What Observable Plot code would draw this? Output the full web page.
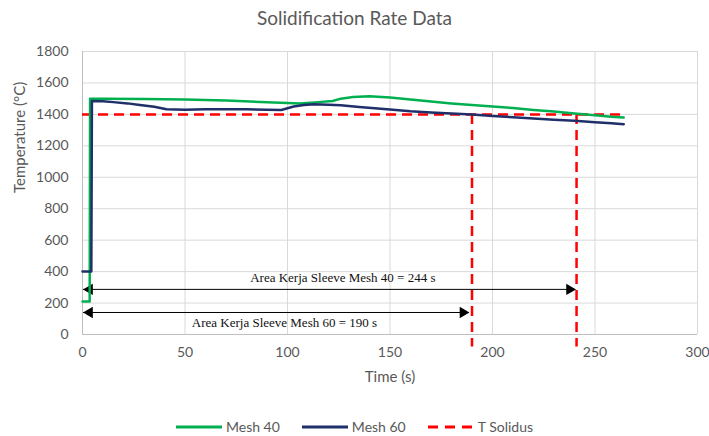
<!DOCTYPE html>
<html>
<head>
<meta charset="utf-8">
<script src="https://cdn.jsdelivr.net/npm/d3@7"></script>
<script src="https://cdn.jsdelivr.net/npm/@observablehq/plot@0.6"></script>
<style>
  body { margin: 0; background: #fff; width: 709px; height: 436px; overflow: hidden; }
  #title { height: 35px; line-height: 35px; text-align: center; font-family: Lato, sans-serif; font-size: 19px; color: #595959; }
  #legend { display: flex; justify-content: center; align-items: center; gap: 22px; font-family: Lato, sans-serif; font-size: 14px; color: #595959; margin-top: 13px; }
  #legend .item { display: flex; align-items: center; gap: 4px; }
</style>
</head>
<body>
<div id="title">Solidification Rate Data</div>
<div id="chart"></div>
<div id="legend"></div>
<script>
// ---- data ----
const xTicks = [0, 50, 100, 150, 200, 250, 300];
const yTicks = [0, 200, 400, 600, 800, 1000, 1200, 1400, 1600, 1800];

const mesh40Time = [0, 3.5, 3.7, 10, 30, 50, 70, 90, 100, 106, 115, 122, 126, 132, 140, 150, 160, 170, 180, 190, 200, 210, 220, 230, 240, 250, 258, 264];
const mesh40Temp = [210, 210, 1500, 1500, 1498, 1495, 1488, 1478, 1472, 1470, 1478, 1485, 1500, 1510, 1515, 1508, 1495, 1482, 1470, 1460, 1450, 1440, 1428, 1418, 1406, 1395, 1385, 1380];

const mesh60Time = [0, 4.3, 4.6, 10, 15, 22, 28, 35, 41, 50, 60, 70, 80, 90, 97, 103, 108, 113, 120, 126, 135, 150, 160, 170, 180, 190, 200, 210, 220, 230, 240, 250, 258, 264];
const mesh60Temp = [400, 400, 1485, 1483, 1478, 1470, 1460, 1448, 1433, 1430, 1432, 1433, 1432, 1430, 1428, 1450, 1460, 1465, 1462, 1458, 1447, 1431, 1420, 1412, 1405, 1399, 1390, 1382, 1374, 1366, 1359, 1350, 1343, 1338];

const solidusTemp = 1400;
const solidusStart = 0;
const solidusEnd = 264;
const crossTimes = [190, 241];
const crossBottom = -80;

const arrowLabels = ["Area Kerja Sleeve Mesh 40 = 244 s", "Area Kerja Sleeve Mesh 60 = 190 s"];
const arrowStart = [0.5, 0.5];
const arrowEnd = [240.5, 188.5];
const arrowLevel = [287, 140];
const labelTime = [127, 98.5];
const labelLevel = [363, 76];

const seriesNames = ["Mesh 40", "Mesh 60", "T Solidus"];
const seriesColors = ["#00b050", "#1f2f6a", "#ff0000"];

// ---- build tables ----
const mesh40 = mesh40Time.map((t, i) => ({t, v: mesh40Temp[i]}));
const mesh60 = mesh60Time.map((t, i) => ({t, v: mesh60Temp[i]}));
const arrows = arrowLabels.map((label, i) => ({label, x1: arrowStart[i], x2: arrowEnd[i], y: arrowLevel[i], lx: labelTime[i], ly: labelLevel[i]}));

const grey = "#595959";
const chart = Plot.plot({
  width: 709,
  height: 370,
  marginTop: 16,
  marginBottom: 71,
  marginLeft: 82,
  marginRight: 12,
  style: {fontFamily: "Lato, sans-serif", fontSize: "14px", color: grey, background: "white", overflow: "visible"},
  x: {domain: [0, 300], label: null},
  y: {domain: [0, 1800], label: null},
  marks: [
    Plot.gridX(xTicks, {stroke: "#d9d9d9", strokeOpacity: 1, strokeWidth: 1}),
    Plot.gridY(yTicks, {stroke: "#d9d9d9", strokeOpacity: 1, strokeWidth: 1}),
    Plot.ruleX([0], {stroke: "#bfbfbf"}),
    Plot.ruleY([0], {stroke: "#bfbfbf"}),
    Plot.axisX(xTicks, {tickSize: 0, tickPadding: 13, fontSize: 14, fill: grey, label: null, tickFormat: d => String(d)}),
    Plot.axisY(yTicks, {tickSize: 0, tickPadding: 14, fontSize: 14, fill: grey, label: null, tickFormat: d => String(d)}),
    Plot.text(["Time (s)"], {frameAnchor: "bottom", dy: 47, fontSize: 15, fill: grey}),
    Plot.text(["Temperature (°C)"], {frameAnchor: "left", dx: -62, rotate: -90, fontSize: 15, fill: grey}),
    // arrows
    Plot.ruleY(arrows, {y: "y", x1: "x1", x2: "x2", stroke: "black", strokeWidth: 1}),
    Plot.dot(arrows, {x: "x1", y: "y", symbol: "triangle", r: 4.2, rotate: -90, dx: 6, fill: "black", stroke: null}),
    Plot.dot(arrows, {x: "x2", y: "y", symbol: "triangle", r: 4.2, rotate: 90, dx: -6, fill: "black", stroke: null}),
    Plot.text(arrows, {x: "lx", y: "ly", text: "label", fontFamily: "Liberation Serif, serif", fontSize: 13, fill: "#111"}),
    // solidus
    Plot.ruleX(crossTimes, {x: d => d, y1: solidusTemp, y2: crossBottom, stroke: seriesColors[2], strokeWidth: 2.5, strokeDasharray: "10,6"}),
    Plot.ruleY([solidusTemp], {y: d => d, x1: solidusStart, x2: solidusEnd, stroke: seriesColors[2], strokeWidth: 2.5, strokeDasharray: "10,6"}),
    // series
    Plot.line(mesh40, {x: "t", y: "v", stroke: seriesColors[0], strokeWidth: 2.5}),
    Plot.line(mesh60, {x: "t", y: "v", stroke: seriesColors[1], strokeWidth: 2.5})
  ]
});
document.getElementById("chart").appendChild(chart);

// legend
const legend = document.getElementById("legend");
seriesNames.forEach((name, i) => {
  const item = document.createElement("div");
  item.className = "item";
  const dash = i === 2 ? 'stroke-dasharray="10,7"' : "";
  item.innerHTML = `<svg width="46" height="6"><line x1="0" y1="3" x2="46" y2="3" stroke="${seriesColors[i]}" stroke-width="3" ${dash}/></svg><span>${name}</span>`;
  legend.appendChild(item);
});
</script>
</body>
</html>
